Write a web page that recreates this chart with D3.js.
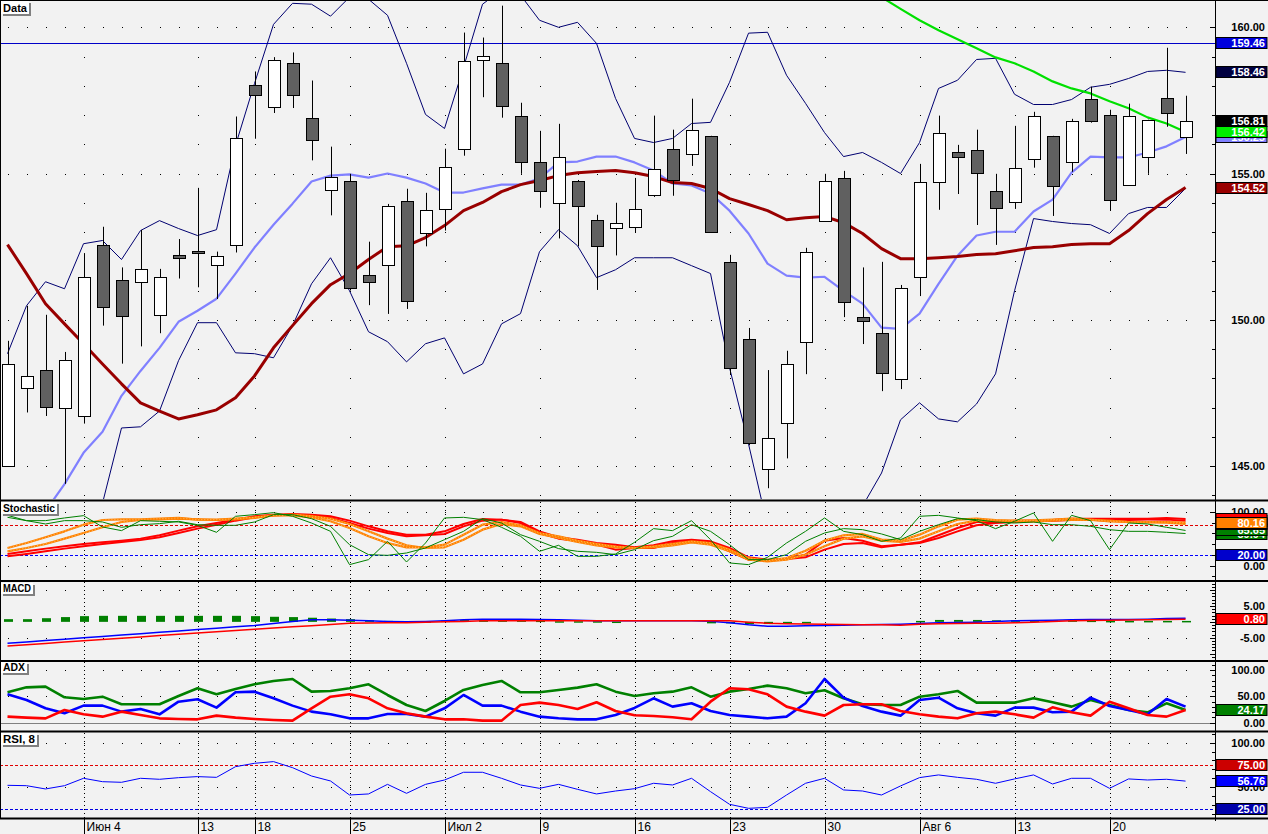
<!DOCTYPE html>
<html><head><meta charset="utf-8">
<script src="https://cdn.jsdelivr.net/npm/d3@7"></script>
<style>
html,body{margin:0;padding:0;background:#f2f2f2;}
svg{display:block;}
text{font-family:"Liberation Sans",Arial,sans-serif;}
</style></head><body>
<svg id="c" width="1268" height="834"></svg>
<script>
// ---------- DATA ----------
const tickIdx = [4,10,13,18,23,28,33,38,43,48,53,58];
const tickLabels = ["Июн 4","13","18","25","Июл 2","9","16","23","30","Авг 6","13","20"];

const open = [144.99,147.66,148.28,146.98,146.70,152.56,151.36,151.28,150.16,152.22,152.36,151.87,152.56,158.04,157.28,158.79,156.91,154.44,154.75,151.53,151.87,154.07,152.97,153.79,155.85,158.89,158.79,156.98,155.40,154.00,154.75,153.41,153.14,153.17,154.27,155.85,155.67,156.29,151.98,149.34,144.89,146.46,149.24,153.38,154.85,150.09,149.54,147.97,151.46,154.72,155.74,155.81,154.41,154.03,155.50,156.29,155.40,157.56,157.01,154.61,155.57,157.59,156.26];
const high = [149.28,150.48,150.17,148.90,152.28,153.18,151.79,153.07,151.74,152.76,154.51,152.33,156.95,158.49,158.98,159.14,158.18,155.92,154.99,152.67,153.96,154.48,154.34,155.85,159.82,159.65,160.74,157.42,156.46,156.70,154.78,153.59,154.00,154.85,156.98,156.50,157.56,156.29,152.22,149.72,148.28,148.94,152.46,154.99,155.09,151.79,151.98,151.19,155.33,156.98,155.98,156.50,154.99,156.63,157.11,156.29,156.87,157.97,157.18,157.39,156.84,159.30,157.66];
const low = [144.99,146.83,146.71,144.39,146.45,149.80,148.50,149.09,149.54,151.41,151.11,150.71,152.30,156.19,157.07,157.24,155.45,153.57,151.00,150.50,150.20,150.37,152.51,153.05,155.61,157.61,156.91,154.99,153.83,152.78,152.51,151.02,152.20,152.97,154.20,154.24,155.26,153.00,148.11,145.71,144.24,145.26,148.14,153.38,150.09,149.17,147.56,147.63,150.81,153.76,154.30,153.24,152.56,153.79,155.20,153.55,155.06,156.74,153.72,154.61,154.99,156.60,155.67];
const close = [148.48,148.07,147.01,148.62,151.46,150.43,150.13,151.74,151.46,152.11,152.28,152.18,156.20,157.70,158.89,157.70,156.15,154.89,151.09,151.29,153.89,150.64,153.76,155.23,158.86,159.03,157.32,155.40,154.41,155.57,153.89,152.52,153.31,153.79,155.16,154.78,156.50,153.00,148.35,145.78,145.95,148.48,152.32,154.75,150.61,149.96,148.17,151.09,154.72,156.39,155.57,155.02,153.83,155.20,156.98,154.58,156.80,156.80,154.10,156.98,156.84,157.08,156.81];

const bbUpper = [148.84,150.48,151.30,151.06,152.60,152.71,152.06,153.05,153.39,153.12,152.88,153.08,155.96,158.08,160.10,160.82,160.79,160.38,161.03,160.96,160.41,158.77,157.02,156.54,158.63,160.79,161.27,161.10,160.24,160.00,160.17,159.45,157.57,156.20,156.06,156.20,156.71,156.75,158.12,159.80,159.83,158.36,157.40,156.40,155.58,155.72,155.38,155.00,156.06,157.91,158.19,158.90,158.94,157.71,157.36,157.36,157.53,157.95,158.05,158.25,158.49,158.53,158.46];
const bbLower = [140.38,140.72,141.23,141.92,142.77,143.73,146.30,146.34,146.88,148.60,149.90,149.90,148.87,148.84,148.70,149.80,151.23,152.12,150.99,149.59,149.25,148.56,149.18,149.38,148.15,148.49,149.86,150.21,152.33,153.08,152.53,151.44,151.71,152.12,152.12,152.12,151.85,151.58,148.36,145.75,142.95,141.75,141.58,142.26,142.95,143.63,144.76,146.58,147.16,146.61,146.51,147.12,148.15,150.99,153.46,153.36,153.29,153.25,152.95,153.63,153.84,153.84,154.49];
const maFast = [141.75,142.60,143.46,144.38,145.45,146.17,147.40,148.25,149.04,149.93,150.31,150.72,151.58,152.47,153.25,153.97,154.73,154.93,154.97,154.86,155.00,154.86,154.66,154.35,154.35,154.49,154.62,154.62,154.83,155.38,155.41,155.58,155.58,155.38,155.10,154.66,154.59,154.32,153.73,152.95,151.92,151.51,151.44,151.47,150.99,150.55,149.73,149.69,150.21,151.23,152.19,152.88,153.01,153.01,153.70,154.11,155.03,155.58,155.55,155.55,155.72,155.93,156.25];
const maSlow = [152.57,151.58,150.55,149.86,149.18,148.49,147.81,147.16,146.88,146.61,146.75,146.92,147.33,148.08,149.04,149.80,150.55,151.20,151.58,152.06,152.50,152.53,152.81,153.22,153.73,154.01,154.38,154.62,154.76,154.93,155.03,155.07,155.10,155.03,154.90,154.69,154.66,154.49,154.14,153.94,153.73,153.42,153.49,153.53,153.32,152.95,152.43,152.09,152.09,152.12,152.16,152.23,152.26,152.36,152.47,152.50,152.57,152.60,152.60,153.05,153.63,154.11,154.52];
const maLong = [null,null,null,null,null,null,null,null,null,null,null,null,null,null,null,null,null,null,null,null,null,null,null,null,null,null,null,null,null,null,null,null,null,null,null,null,null,null,null,null,null,null,null,null,null,
  161.61,161.03,160.63,160.24,159.90,159.59,159.28,158.97,158.77,158.49,158.15,157.91,157.74,157.47,157.23,156.92,156.71,156.42];
const levelPrice = 159.46;

const stochG1 = [93.8,83.9,83.9,88.9,93.2,72.1,65.3,83.9,82.7,81.4,75.2,62.2,92.0,95.1,98.8,92.0,79.5,64.0,2.0,11.3,45.4,6.9,42.3,88.9,90.1,85.8,71.5,54.7,26.8,38.0,17.5,17.5,21.8,43.5,69.0,65.3,83.9,48.5,5.1,2.0,15.6,42.3,64.0,88.9,64.0,57.8,45.4,51.6,92.0,93.8,88.9,83.9,69.0,82.7,98.2,45.4,93.8,83.9,29.9,79.5,77.7,71.5,65.65];
const stochG2 = [90.1,83.9,77.7,83.9,83.9,81.4,71.5,76.4,78.3,82.7,76.4,75.2,75.2,81.4,95.1,95.1,87.6,73.3,39.2,20.6,19.3,23.7,33.0,48.5,64.0,87.6,79.5,57.8,45.4,31.8,26.8,24.9,20.6,29.9,46.6,54.7,76.4,64.0,39.2,11.3,11.3,20.6,45.4,60.9,69.0,67.1,59.1,48.5,64.0,76.4,87.6,85.8,81.4,79.5,81.4,76.4,76.4,73.3,67.1,64.0,64.0,62.2,59.94];
const stochO1 = [33.0,42.3,52.9,64.0,76.4,85.1,86.4,86.4,87.6,88.9,85.8,85.8,87.6,90.1,93.8,93.8,90.1,82.7,70.2,54.7,42.3,34.2,34.2,39.2,57.8,76.4,81.4,75.2,60.9,54.7,46.6,40.5,35.5,33.0,36.1,40.5,45.4,42.3,29.9,14.4,9.4,14.4,28.0,46.6,56.6,59.1,48.5,46.6,57.8,73.3,85.8,87.6,85.1,83.9,84.5,85.8,87.6,85.8,82.7,81.4,81.4,81.4,80.16];
const stochO2 = [26.8,33.0,40.5,50.4,60.9,71.5,81.4,85.1,86.4,87.6,86.4,85.1,86.4,88.9,93.8,95.1,92.6,87.6,77.7,64.0,50.4,38.0,33.0,34.2,48.5,67.1,77.7,73.3,59.1,51.6,44.2,38.0,34.2,33.0,34.2,38.0,43.5,39.2,26.8,11.3,8.2,11.3,20.6,36.1,50.4,54.7,46.6,44.2,50.4,64.0,77.7,83.9,83.9,82.7,82.7,83.9,85.8,85.1,83.9,81.4,80.8,80.2,77.7];
const stochR1 = [21.8,26.8,31.8,36.1,40.5,43.5,46.6,50.4,56.6,65.3,73.3,79.5,85.8,92.0,95.1,96.3,95.1,92.0,83.9,73.3,64.0,57.8,57.8,64.0,77.7,87.0,85.8,81.4,64.0,52.9,48.5,42.3,39.2,34.2,38.0,45.4,48.5,45.4,33.0,15.6,11.3,13.1,20.6,46.6,51.6,46.6,36.1,39.2,43.5,56.6,70.2,81.4,81.4,83.9,83.9,85.1,87.6,87.6,87.6,87.6,87.6,88.9,87.0];
const stochR2 = [17.5,21.8,26.8,31.8,36.1,40.5,44.2,47.9,52.9,60.9,69.0,76.4,83.9,90.1,93.8,95.1,93.8,88.9,79.5,69.0,60.9,54.7,56.6,59.1,73.3,83.9,85.8,79.5,60.9,50.4,46.6,39.2,29.9,33.0,33.0,42.3,45.4,42.3,26.8,11.3,9.4,12.5,15.6,29.9,40.5,42.3,34.2,39.2,42.3,51.6,64.0,75.2,79.5,81.4,82.7,83.9,85.1,86.4,85.8,85.1,85.8,85.8,83.9];
const stochHigh = 75, stochLow = 20;

const macdLine = [-6.77,-6.34,-5.90,-5.47,-5.03,-4.60,-4.17,-3.73,-3.30,-2.86,-2.43,-2.00,-1.56,-1.16,-0.53,0.10,0.63,0.63,0.53,0.32,0.10,0.00,0.10,0.32,0.63,0.84,0.84,0.84,0.74,0.63,0.53,0.32,0.32,0.32,0.32,0.32,0.32,0.20,-0.30,-0.95,-1.37,-1.37,-1.26,-1.16,-1.05,-0.95,-0.84,-0.74,-0.53,-0.32,-0.21,-0.10,0.10,0.32,0.42,0.53,0.63,0.74,0.74,0.74,0.84,1.05,1.16];
const macdSignal = [-7.62,-7.21,-6.80,-6.39,-5.98,-5.57,-5.16,-4.75,-4.34,-3.92,-3.51,-3.10,-2.69,-2.31,-1.95,-1.58,-1.22,-0.84,-0.45,-0.38,-0.32,-0.26,-0.10,0.00,0.10,0.32,0.32,0.32,0.32,0.32,0.32,0.32,0.32,0.32,0.32,0.32,0.32,0.32,0.32,-0.10,-0.47,-0.58,-0.68,-0.79,-0.84,-0.90,-0.95,-1.05,-0.74,-0.58,-0.53,-0.47,-0.42,-0.32,-0.10,0.10,0.32,0.42,0.53,0.58,0.63,0.74,0.80];
const macdHist = [0.85,0.85,1.15,1.5,1.8,1.9,1.9,1.9,1.9,1.9,1.9,1.9,1.9,1.8,1.6,1.5,1.3,1.05,0.85,0.5,0.3,0.2,0.2,0.4,0.6,0.8,0.7,0.5,0.4,0.2,0.2,0.2,0.1,0,0,0,0,-0.2,-0.3,-0.7,-0.7,-0.6,-0.2,0,0,0,0,0,0.3,0.6,0.6,0.6,0.5,0.5,0.5,0.5,0.5,0.4,0.3,0.3,0.3,0.3,0.3];

const adx = [57.7,67.1,68.4,48.2,45.0,49.4,34.9,34.9,34.9,50.7,65.3,53.9,64.0,72.8,79.2,83.0,58.9,60.2,65.3,72.8,52.6,33.6,22.2,41.2,62.1,71.6,79.2,57.7,57.7,62.1,66.5,72.8,58.9,50.7,55.8,58.9,67.1,49.4,58.9,64.0,70.3,65.3,55.8,61.5,46.3,34.9,33.6,33.6,49.4,53.9,60.2,38.1,38.1,38.1,46.3,38.7,30.5,43.1,33.6,24.1,19.7,36.8,24.17];
const diPlus = [53.9,43.1,27.3,17.8,32.4,32.4,21.0,26.0,15.9,39.9,44.4,28.6,57.7,58.9,46.3,32.4,21.0,15.9,8.3,8.3,16.5,16.5,11.5,27.3,52.6,32.4,32.4,21.0,11.5,8.3,6.4,6.4,14.7,28.0,46.3,30.5,36.8,22.2,14.7,11.5,8.3,11.5,36.8,83.0,47.5,31.7,21.0,13.4,43.1,47.5,27.3,17.8,13.4,28.6,28.6,19.7,21.0,47.5,31.7,24.1,15.9,45.0,30.5];
const diMinus = [11.5,9.6,8.3,24.1,15.9,11.5,21.0,14.7,8.3,7.1,6.4,13.4,9.6,7.1,5.2,3.9,27.3,49.4,53.9,46.3,27.3,17.8,11.5,6.4,6.4,3.9,3.9,33.6,38.1,33.6,26.0,38.7,22.2,14.0,12.8,10.2,6.4,39.9,65.3,63.4,53.9,30.5,21.0,13.4,33.6,34.9,34.9,22.2,15.9,11.5,8.3,17.8,21.0,15.9,9.6,29.2,19.7,13.4,39.9,27.3,14.7,11.5,24.1];

const rsi = [52.0,51.6,47.9,51.6,59.9,56.1,55.4,59.9,58.8,60.6,61.8,61.0,73.0,76.8,78.7,71.9,62.5,56.9,41.1,42.3,53.1,43.0,53.1,58.0,66.7,66.7,59.9,52.4,48.6,53.1,47.5,42.3,45.6,48.2,54.3,52.4,59.9,44.9,30.6,26.1,27.2,41.1,54.3,59.9,46.8,45.6,41.1,51.3,60.7,63.7,61.0,58.8,54.3,59.2,63.7,53.5,59.9,59.9,48.6,59.2,58.0,58.8,56.76];
const rsiHigh = 75, rsiLow = 25;

// ---------- LAYOUT ----------
const W = 1268, H = 834, AX = 1215;
const svg = d3.select("#c");
svg.append("rect").attr("width", W).attr("height", H).attr("fill", "#f2f2f2");
const n = open.length;
const idx = d3.range(n);
const x = d3.scaleLinear().domain([-0.395, 63.55]).range([0, AX]);

const P = {
  main:  {top: 1,   bottom: 499, y: d3.scaleLinear().domain([145,160]).range([466,27.3])},
  stoch: {top: 502, bottom: 580, y: d3.scaleLinear().domain([0,100]).range([565.7,512])},
  macd:  {top: 582, bottom: 660, y: d3.scaleLinear().domain([-5,5]).range([637.7,606])},
  adx:   {top: 662, bottom: 730, y: d3.scaleLinear().domain([0,100]).range([722.7,670])},
  rsi:   {top: 733, bottom: 818, y: d3.scaleLinear().domain([25,100]).range([809.3,742.7])}
};
const defs = svg.append("defs");
const G = {};
Object.entries(P).forEach(([k,p])=>{
  defs.append("clipPath").attr("id","clip-"+k).append("rect")
    .attr("x",1).attr("y",p.top).attr("width",AX-1).attr("height",p.bottom-p.top);
  G[k] = svg.append("g").attr("clip-path","url(#clip-"+k+")");
});

function dot(g, px, py){ g.append("rect").attr("x",Math.round(px)).attr("y",Math.round(py)).attr("width",1).attr("height",1).attr("fill","#000").attr("shape-rendering","crispEdges"); }
function rows(key, vals){ const p=P[key]; vals.forEach(v=>idx.forEach(i=>dot(G[key], x(i), p.y(v)))); }
function weekLines(key){ const p=P[key];
  tickIdx.forEach(t=>{ const tx=Math.round(x(t))+0.5;
    G[key].append("line").attr("x1",tx).attr("x2",tx).attr("y1",p.top).attr("y2",p.bottom)
      .attr("stroke","#000").attr("stroke-dasharray","1,3").attr("shape-rendering","crispEdges"); }); }
function drawLine(key, arr, color, w, dash){
  const p=P[key];
  const gen=d3.line().defined(d=>d[1]!=null).x(d=>x(d[0])).y(d=>p.y(d[1]));
  const path=G[key].append("path").datum(arr.map((v,i)=>[i,v])).attr("d",gen)
    .attr("fill","none").attr("stroke",color).attr("stroke-width",w).attr("stroke-linejoin","round");
  if(dash) path.attr("stroke-dasharray",dash);
  return path;
}
function hline(key, v, color, dash, w){ const p=P[key]; const yy=Math.round(p.y(v))+0.5;
  const l=G[key].append("line").attr("x1",0).attr("x2",AX).attr("y1",yy).attr("y2",yy).attr("stroke",color)
    .attr("stroke-width",w||1).attr("shape-rendering","crispEdges");
  if(dash) l.attr("stroke-dasharray",dash); }

// ---------- MAIN PANEL ----------
rows("main",[145,150,155,160]);
tickIdx.forEach(t=>d3.range(143,162).forEach(v=>dot(G.main, x(t), P.main.y(v))));
hline("main", levelPrice, "#0000c8");
drawLine("main", bbUpper, "#000070", 1);
drawLine("main", bbLower, "#000070", 1);
drawLine("main", maFast, "#8080ff", 2.2);
drawLine("main", maSlow, "#990000", 3);
drawLine("main", maLong, "#00e000", 2.2);
const yP = P.main.y;
idx.forEach(i=>{
  const cx = Math.round(x(i))+0.5;
  G.main.append("line").attr("x1",cx).attr("x2",cx).attr("y1",yP(high[i])).attr("y2",yP(low[i])).attr("stroke","#000");
  const up = close[i] >= open[i];
  const top = Math.round(yP(Math.max(open[i],close[i]))), bot = Math.round(yP(Math.min(open[i],close[i])));
  G.main.append("rect").attr("x",Math.round(x(i))-6+0.5).attr("y",top+0.5).attr("width",12).attr("height",Math.max(2,bot-top))
    .attr("fill", up ? "#ffffff" : "#606060").attr("stroke","#000");
});

// ---------- STOCHASTIC ----------
rows("stoch",[100,0]);
weekLines("stoch");
hline("stoch", stochHigh, "#e00000", "3,2");
hline("stoch", stochLow, "#0000ff", "3,2");
drawLine("stoch", stochR2, "#ff0000", 2);
drawLine("stoch", stochR1, "#ff0000", 2);
[stochO2, stochO1].forEach(a=>{ drawLine("stoch", a, "#ff8000", 2.2); drawLine("stoch", a, "#ffc060", 1, "1,2"); });
drawLine("stoch", stochG2, "#008000", 1);
drawLine("stoch", stochG1, "#008000", 1);

// ---------- MACD ----------
rows("macd",[10,-5]);
weekLines("macd");
const yM = P.macd.y;
idx.forEach(i=>{ const v=macdHist[i]; if(!v) return;
  const y0=yM(0), y1=yM(v);
  G.macd.append("rect").attr("x",Math.round(x(i))-4).attr("width",9)
    .attr("y",Math.min(y0,y1)).attr("height",Math.max(1.5,Math.abs(y1-y0))).attr("fill","#008000"); });
drawLine("macd", macdLine, "#0000ff", 1.5);
drawLine("macd", macdSignal, "#ff0000", 1.5);

// ---------- ADX ----------
rows("adx",[100,50]);
weekLines("adx");
hline("adx", 0, "#808080");
drawLine("adx", adx, "#008000", 2.6);
drawLine("adx", diPlus, "#0000ff", 2.6);
drawLine("adx", diMinus, "#ff0000", 2.6);

// ---------- RSI ----------
rows("rsi",[100,50]);
weekLines("rsi");
hline("rsi", rsiHigh, "#e00000", "3,2");
hline("rsi", rsiLow, "#0000e0", "3,2");
drawLine("rsi", rsi, "#0000ff", 1);

// ---------- FRAME ----------
const frame = svg.append("g");
frame.append("line").attr("x1",0).attr("x2",W).attr("y1",0.5).attr("y2",0.5).attr("stroke","#000");
[500.5,581,661,731.5,818.5].forEach(yy=>frame.append("line").attr("x1",0).attr("x2",W).attr("y1",yy).attr("y2",yy).attr("stroke","#000").attr("stroke-width",2.2));
frame.append("line").attr("x1",0.5).attr("x2",0.5).attr("y1",0).attr("y2",819).attr("stroke","#000");
frame.append("line").attr("x1",AX+0.5).attr("x2",AX+0.5).attr("y1",0).attr("y2",821).attr("stroke","#000");

function axis(key, minorStep, majorVals, labelVals, lo, hi){
  const p=P[key];
  for(let v=lo; v<=hi+1e-9; v+=minorStep){ const yy=Math.round(p.y(v))+0.5;
    if(yy<p.top+1||yy>p.bottom-1) continue;
    const major = majorVals.some(m=>Math.abs(m-v)<1e-6);
    frame.append("line").attr("x1",AX-(major?5:3)).attr("x2",AX).attr("y1",yy).attr("y2",yy).attr("stroke","#000"); }
  labelVals.forEach(v=>frame.append("text").attr("x",1265).attr("y",p.y(v)+4).attr("text-anchor","end")
    .attr("font-size","11px").attr("font-weight","bold").text(v.toFixed(2)));
}
axis("main",1,[145,150,155,160],[145,150,155,160],140,162);
axis("stoch",20,[0,100],[100,0],-20,120);
axis("macd",1,[-10,-5,0,5,10],[5,-5],-12,12);
axis("adx",10,[0,50,100],[100,50,0],0,110);
axis("rsi",10,[50,100],[100,50],0,110);

// value boxes
function box(key, v, bg, withText){
  const yy=P[key].y(v);
  frame.append("rect").attr("x",AX+1).attr("y",Math.round(yy-6)+0.5).attr("width",W-AX-2).attr("height",11)
    .attr("fill",bg).attr("stroke","#000");
  if(withText!==false)
    frame.append("text").attr("x",1265).attr("y",yy+4).attr("text-anchor","end").attr("font-size","11px")
      .attr("font-weight","bold").attr("fill","#fff").text(v.toFixed(2));
}
const last = n-1;
box("main", levelPrice, "#0000dd");
box("main", bbUpper[last], "#000040");
box("main", close[last], "#000000");
box("main", maFast[last], "#8080ff");
box("main", maLong[last], "#00ee00");
box("main", maSlow[last], "#990000");
box("stoch", stochR2[last], "#ff0000", false);
box("stoch", stochR1[last], "#ff0000", false);
box("stoch", stochG2[last], "#008000");
box("stoch", stochG1[last], "#008000");
box("stoch", stochO2[last], "#ff8000", false);
box("stoch", stochO1[last], "#ff8000");
box("stoch", stochLow, "#0000cc");
box("macd", macdSignal[last], "#ff0000");
box("adx", adx[last], "#008000");
box("rsi", rsiHigh, "#cc0000");
box("rsi", rsi[last], "#0000ff");
box("rsi", rsiLow, "#0000aa");

// x axis
tickIdx.forEach((t,k)=>{ const tx=Math.round(x(t))+0.5;
  frame.append("line").attr("x1",tx).attr("x2",tx).attr("y1",819).attr("y2",834).attr("stroke","#000");
  frame.append("text").attr("x",tx+2).attr("y",831).attr("font-size","12px").text(tickLabels[k]); });

// panel titles
function title(x0,y0,w,h,t){
  frame.append("rect").attr("x",x0+2).attr("y",y0+2).attr("width",w).attr("height",h).attr("fill","#808080");
  frame.append("rect").attr("x",x0).attr("y",y0).attr("width",w).attr("height",h).attr("fill","#fff");
  frame.append("text").attr("x",x0+2).attr("y",y0+h-2).attr("font-size","11px").attr("font-weight","bold")
    .attr("textLength",w-4).attr("lengthAdjust","spacingAndGlyphs").text(t);
}
title(1,1,28,13,"Data");
title(1,502,56,12,"Stochastic");
title(1,583,32,11,"MACD");
title(1,662,26,11,"ADX");
title(1,733,36,12,"RSI, 8");
</script>
</body></html>
